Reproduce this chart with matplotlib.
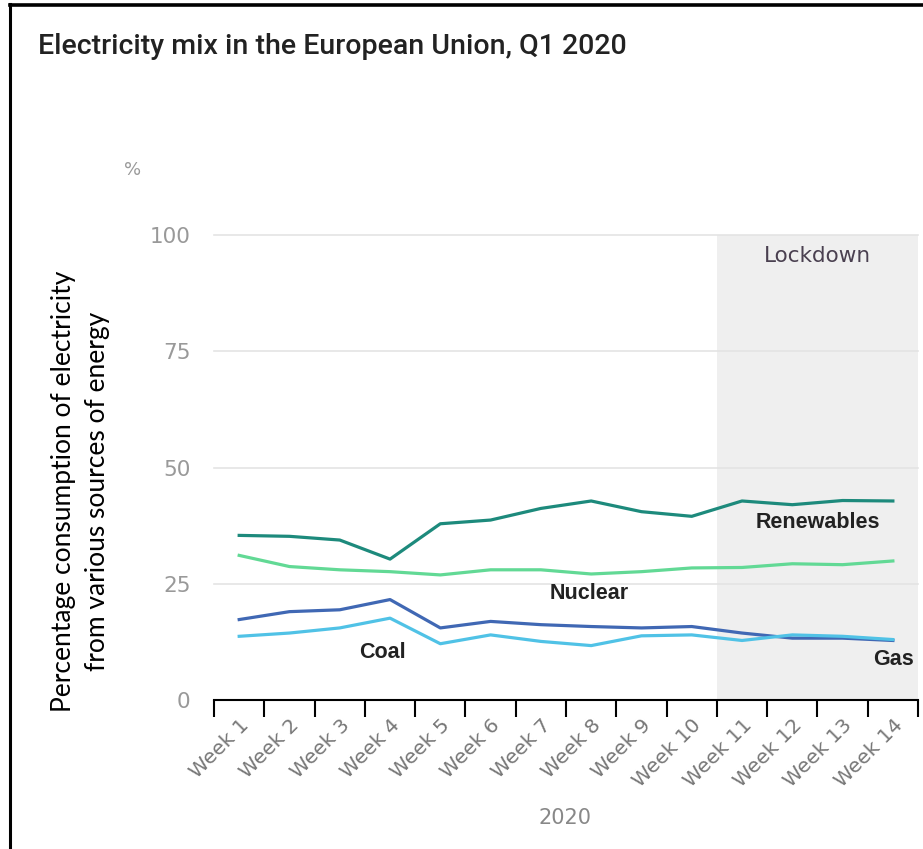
import matplotlib.pyplot as plt
import numpy as np

weeks = ["Week %d" % i for i in range(1, 15)]
renewables = [35.4, 35.2, 34.4, 30.3, 37.9, 38.7, 41.2, 42.8, 40.5, 39.5, 42.8, 42.0, 42.9, 42.8]
nuclear = [31.1, 28.7, 28.0, 27.6, 26.9, 28.0, 28.0, 27.1, 27.6, 28.4, 28.5, 29.3, 29.1, 29.9]
coal = [17.3, 19.0, 19.4, 21.6, 15.5, 16.9, 16.2, 15.8, 15.5, 15.8, 14.4, 13.3, 13.3, 12.8]
gas = [13.7, 14.4, 15.5, 17.6, 12.1, 14.0, 12.6, 11.7, 13.8, 14.0, 12.8, 14.0, 13.7, 13.0]
lockdown_start = 10  # first lockdown week (index of Week 11)

fig = plt.figure(figsize=(9.23, 8.49), dpi=100)
ax = fig.add_axes([0.2319, 0.1755, 0.7627, 0.5477])

x = np.arange(len(weeks))

# shaded lockdown period
ax.axvspan(lockdown_start - 0.5, len(weeks) - 0.5, ymin=0, ymax=1, color="#efefef", zorder=0, lw=0)

for yv in [25, 50, 75, 100]:
    ax.axhline(yv, color="#e4e4e4", lw=1.2, zorder=1, clip_on=False)

ax.plot(x, renewables, color="#1d8a7c", lw=2.3, zorder=3)
ax.plot(x, nuclear, color="#62d995", lw=2.3, zorder=3)
ax.plot(x, coal, color="#4068b4", lw=2.3, zorder=3)
ax.plot(x, gas, color="#50c2e6", lw=2.3, zorder=3)

lab = dict(fontsize=15.5, fontweight="bold", color="#222222", family="Liberation Sans", ha="center", va="center")
ax.text(11.51, 38.1, "Renewables", **lab)
ax.text(6.96, 23.0, "Nuclear", **lab)
ax.text(2.84, 10.3, "Coal", **lab)
ax.text(13.02, 8.8, "Gas", **lab)
ax.text(11.5, 95.5, "Lockdown", fontsize=15.5, color="#4a4050", ha="center", va="center")

ax.set_xlim(-0.5, len(weeks) - 0.5)
ax.set_ylim(0, 100)
ax.set_xticks(x)
ax.set_xticklabels(weeks, rotation=45, ha="right", va="top", rotation_mode="anchor",
                   fontsize=14.5, color="#777777")
ax.set_xticks(np.arange(-0.5, len(weeks)), minor=True)
ax.tick_params(axis="x", which="major", length=0, pad=11)
ax.tick_params(axis="x", which="minor", length=12, width=1.5, color="black")
ax.set_yticks([0, 25, 50, 75, 100])
ax.tick_params(axis="y", length=0, labelsize=15.5, labelcolor="#999999", pad=17)

for s in ["top", "right", "left"]:
    ax.spines[s].set_visible(False)
ax.spines["bottom"].set_linewidth(1.5)
ax.spines["bottom"].set_color("black")

fig.text(0.041, 0.945, "Electricity mix in the European Union, Q1 2020", fontsize=20.5,
         family="Roboto", fontweight="medium", color="#222222", va="center", ha="left")
fig.text(0.144, 0.800, "%", fontsize=13, color="#999999", ha="center", va="center")
fig.text(0.612, 0.037, "2020", fontsize=15, color="#888888", ha="center", va="center")
fig.text(0.0872, 0.4217, "Percentage consumption of electricity\nfrom various sources of energy",
         rotation=90, fontsize=19, family="Lato", ha="center", va="center",
         multialignment="center", linespacing=1.45, color="black")

# frame lines along the top and left edges
fig.add_artist(plt.Line2D([0.0105, 0.0105], [0, 0.995], color="black", lw=2.2, transform=fig.transFigure))
fig.add_artist(plt.Line2D([0.0105, 1], [0.994, 0.994], color="black", lw=2.6, transform=fig.transFigure))

fig.savefig("out.png", dpi=100)
